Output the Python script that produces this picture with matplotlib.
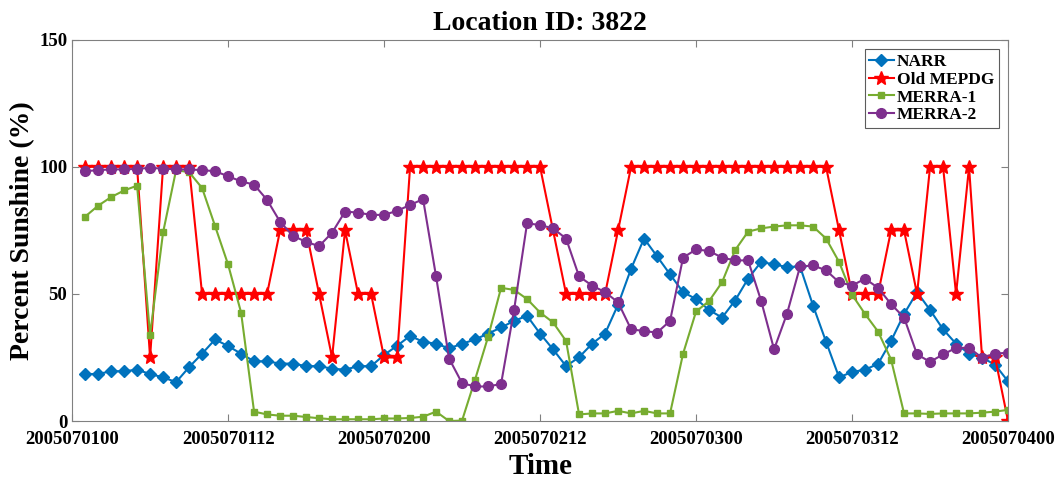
import matplotlib.pyplot as plt
import numpy as np

plt.rcParams['font.family'] = ['Liberation Serif', 'DejaVu Serif']
plt.rcParams['font.weight'] = 'bold'

hours = np.arange(1, 73)
tick_hours = [0, 12, 24, 36, 48, 60, 72]
tick_labels = ['2005070100', '2005070112', '2005070200', '2005070212',
               '2005070300', '2005070312', '2005070400']

narr = [18.5, 18.5, 19.6, 19.6, 20.2, 18.5, 17.2, 15.3, 21.2, 26.5,
        32.1, 29.5, 26.5, 23.5, 23.5, 22.6, 22.6, 21.6, 21.6, 20.6,
        20.2, 21.6, 21.6, 26.0, 29.6, 33.5, 31.2, 30.4, 28.6, 30.4,
        32.1, 34.4, 36.8, 39.4, 41.4, 34.4, 28.2, 21.6, 25.1, 30.4,
        34.4, 45.8, 59.9, 71.8, 64.8, 57.7, 50.7, 48.0, 43.7, 40.7,
        47.4, 56.0, 62.6, 61.6, 60.6, 60.8, 45.4, 31.2, 17.2, 19.3,
        20.2, 22.5, 31.5, 42.1, 50.7, 43.7, 36.1, 30.4, 26.5, 24.9,
        22.2, 15.6]

old_mepdg = [100, 100, 100, 100, 100, 25, 100, 100, 100, 50,
             50, 50, 50, 50, 50, 75, 75, 75, 50, 25,
             75, 50, 50, 25, 25, 100, 100, 100, 100, 100,
             100, 100, 100, 100, 100, 100, 75, 50, 50, 50,
             50, 75, 100, 100, 100, 100, 100, 100, 100, 100,
             100, 100, 100, 100, 100, 100, 100, 100, 75, 50,
             50, 50, 75, 75, 50, 100, 100, 50, 100, 25,
             25, 0]

merra1 = [80.4, 84.7, 88.1, 90.7, 92.6, 33.9, 74.2, 98.7, 97.9, 91.7,
          76.7, 61.6, 42.7, 3.7, 2.6, 2.1, 2.1, 1.6, 1.1, 0.7,
          0.7, 0.7, 0.7, 1.0, 1.0, 1.2, 1.7, 3.7, 0.0, 0.2,
          16.3, 33.1, 52.4, 51.6, 48.0, 42.7, 38.8, 31.5, 2.6, 3.0,
          3.0, 4.0, 3.0, 4.0, 3.0, 3.0, 26.5, 43.1, 47.2, 54.6,
          67.2, 74.5, 75.8, 76.5, 77.0, 77.0, 76.5, 71.8, 62.6, 49.7,
          42.1, 35.2, 24.2, 3.0, 3.0, 2.8, 3.0, 3.0, 3.0, 3.3,
          3.7, 4.4]

merra2 = [98.3, 98.7, 99.0, 99.0, 99.2, 99.6, 99.3, 99.0, 99.0, 98.7,
          98.3, 96.3, 94.3, 93.0, 87.0, 78.4, 72.8, 70.5, 68.8, 74.1,
          82.4, 82.0, 81.1, 81.1, 82.7, 85.0, 87.3, 56.9, 24.6, 14.9,
          13.6, 13.6, 14.6, 43.7, 77.8, 77.1, 75.8, 71.8, 56.9, 53.3,
          50.7, 46.7, 36.1, 35.4, 34.8, 39.4, 64.3, 67.5, 66.9, 64.3,
          63.2, 63.2, 47.4, 28.2, 42.3, 60.8, 61.2, 59.3, 54.6, 53.3,
          56.0, 52.4, 46.0, 40.7, 26.2, 23.3, 26.2, 28.8, 28.8, 24.9,
          26.5, 26.9]

fig = plt.figure(figsize=(10.6, 4.79), dpi=100)
ax = fig.add_axes([0.068, 0.121, 0.883, 0.796])

ax.plot(hours, narr, color='#0072BD', marker='D', markersize=6, lw=1.5, label='NARR')
ax.plot(hours, old_mepdg, color='#FF0000', marker='*', markersize=10, lw=1.5, label='Old MEPDG')
ax.plot(hours, merra1, color='#77AC30', marker='s', markersize=5, lw=1.5, label='MERRA-1')
ax.plot(hours, merra2, color='#7E2F8E', marker='o', markersize=7, lw=1.5, label='MERRA-2')

ax.set_xlim(0, 72)
ax.set_ylim(0, 150)
ax.set_xticks(tick_hours)
ax.set_xticklabels(tick_labels)
ax.set_yticks([0, 50, 100, 150])
ax.tick_params(direction='in', length=5, labelsize=13.5, colors='#808080',
               labelcolor='black', top=True, right=True, labeltop=False, labelright=False)
ax.tick_params(axis='x', pad=7)
for s in ax.spines.values():
    s.set_color('#808080')

ax.set_title('Location ID: 3822', fontsize=20, fontweight='bold', pad=7)
ax.set_xlabel('Time', fontsize=21, fontweight='bold', labelpad=4)
ax.set_ylabel('Percent Sunshine (%)', fontsize=20, fontweight='bold', labelpad=3)

leg = ax.legend(loc='upper right', bbox_to_anchor=(0.99, 0.975), fontsize=12.5,
                frameon=True, fancybox=False, handlelength=1.4, handletextpad=0.2,
                borderpad=0.25, labelspacing=0.1, borderaxespad=0)
leg.get_frame().set_edgecolor('#333333')
leg.get_frame().set_linewidth(0.8)

fig.savefig('out.png', dpi=100)
